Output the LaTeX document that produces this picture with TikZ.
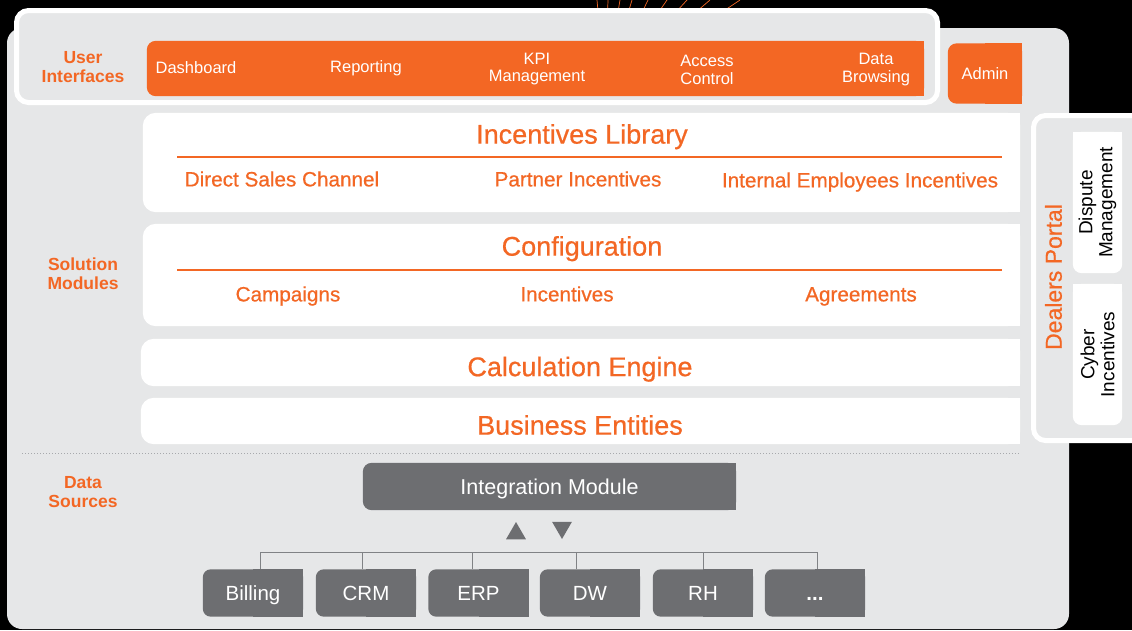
\documentclass[tikz,border=0pt]{standalone}
\usepackage{fontspec}
\setmainfont{Liberation Sans}
\newfontfamily\medfont{Liberation Sans}[FakeBold=0.6]
\usetikzlibrary{shapes.geometric}

\definecolor{ioOrange}{RGB}{243,103,36}
\definecolor{panelGrey}{RGB}{230,231,232}
\definecolor{boxGrey}{RGB}{109,110,113}
\definecolor{lineGrey}{RGB}{128,130,133}
\definecolor{dotGrey}{RGB}{167,169,172}

\newcommand\moredots{{\bfseries...}}

\pgfdeclarelayer{bg}
\pgfdeclarelayer{boxes}
\pgfsetlayers{bg,boxes,main}

\tikzset{
  leftfill/.style 2 args={append after command={\pgfextra{\begin{pgfonlayer}{boxes}
      \fill[#1, rounded corners=#2] (\tikzlastnode.south west) rectangle (\tikzlastnode.north east);
      \fill[#1] (\tikzlastnode.south) rectangle (\tikzlastnode.north east);
    \end{pgfonlayer}}}},
  capfix/.style={text height=#1, text depth=0pt},
  frame/.style={draw=white, line width=5pt, fill=panelGrey, rounded corners=12pt, inner sep=0pt},
  bartext/.style={text=white, font=\fontsize{16.5}{17.5}\selectfont, align=center},
  sidelabel/.style={text=ioOrange, font=\fontsize{17.5}{19}\selectfont\bfseries, align=center},
  modbox/.style={leftfill={white}{13pt}, minimum width=877pt, inner sep=0pt},
  headtext/.style={text=ioOrange, font=\medfont\fontsize{27}{30}\selectfont, capfix=19.3pt},
  subtext/.style={text=ioOrange, font=\medfont\fontsize{20.7}{24}\selectfont, capfix=14.8pt},
  rule/.style={ioOrange, line width=2pt},
  srcbox/.style={leftfill={boxGrey}{8pt}, minimum width=100pt, minimum height=47pt, inner sep=0pt,
    text=white, font=\fontsize{20.5}{22}\selectfont, capfix=14.7pt},
  tri/.style={regular polygon, regular polygon sides=3, fill=boxGrey, minimum size=23pt, inner sep=0pt},
  bus/.style={lineGrey, line width=1pt},
  sidetext/.style={rotate=90, align=center, text=black, font=\fontsize{19}{20}\selectfont}
}

\begin{document}
\begin{tikzpicture}[x=1pt,y=-1pt]
  \useasboundingbox (0,0) rectangle (1132,630);

  \begin{pgfonlayer}{bg}
    \fill[black] (0,0) rectangle (1132,630);
    % rays behind the top frame
    \foreach \x in {597,608,620,632,648,667,687,710,740}
      \draw[ioOrange, line width=0.7pt] (605,90) -- (\x,0);
    \fill[panelGrey, rounded corners=15pt] (7,28) rectangle (1069,629);
    \node[frame, minimum width=921pt, minimum height=92pt] (uiframe) at (477,56.5) {};
    \node[frame, minimum width=117pt, minimum height=325pt] (portal) at (1092,278) {};
  \end{pgfonlayer}

  % user interfaces
  \node[sidelabel] (uilabel) at (83,67) {User\\Interfaces};
  \node[leftfill={ioOrange}{9pt}, minimum width=777pt, minimum height=55pt] (uibar) at (535.5,68.5) {};
  \node[bartext] (dash) at (196,68) {Dashboard};
  \node[bartext] (rep) at (366,68) {Reporting};
  \node[bartext] (kpi) at (537,69) {KPI\\Management};
  \node[bartext] (acc) at (707,70) {Access\\Control};
  \node[bartext] (browse) at (876,69.5) {Data\\Browsing};
  \node[leftfill={ioOrange}{9pt}, minimum width=74pt, minimum height=60pt, bartext, capfix=11.8pt] (admin) at (985,73.5) {Admin};

  % solution modules
  \node[sidelabel] (modlabel) at (83,274) {Solution\\Modules};

  \node[modbox, minimum height=99pt] (libbox) at (581.5,162.5) {};
  \node[headtext] (lib) at (582,134) {Incentives Library};
  \draw[rule] (177,157) -- (1002,157);
  \node[subtext] (direct) at (282,179) {Direct Sales Channel};
  \node[subtext] (partner) at (578,179) {Partner Incentives};
  \node[subtext] (internal) at (860,180) {Internal Employees Incentives};

  \node[modbox, minimum height=102pt] (confbox) at (581.5,275) {};
  \node[headtext] (conf) at (582,246) {Configuration};
  \draw[rule] (177,270) -- (1002,270);
  \node[subtext] (camp) at (288,294) {Campaigns};
  \node[subtext] (incent) at (567,294) {Incentives};
  \node[subtext] (agree) at (861,294) {Agreements};

  \node[modbox, minimum width=879pt, minimum height=47pt] (calcbox) at (580.5,362.5) {};
  \node[headtext] (calc) at (580,366.5) {Calculation Engine};
  \node[modbox, minimum width=879pt, minimum height=46pt] (entbox) at (580.5,421) {};
  \node[headtext] (ent) at (580,425) {Business Entities};

  % dealers portal
  \node[rotate=90, text=ioOrange, font=\medfont\fontsize{23}{26}\selectfont] (dealers) at (1053.5,277) {Dealers Portal};
  \node[leftfill={white}{9pt}, minimum width=141pt, minimum height=49pt, inner sep=0pt, sidetext] (dispute) at (1097.5,202.5) {Dispute\\Management};
  \node[leftfill={white}{9pt}, minimum width=141pt, minimum height=49pt, inner sep=0pt, sidetext] (cyber) at (1097.5,354.5) {Cyber\\Incentives};

  % data sources
  \draw[dotGrey, line width=1pt, dash pattern=on 1pt off 2pt] (22,453) -- (1020,453);
  \node[sidelabel] (srclabel) at (83,492) {Data\\Sources};
  \node[leftfill={boxGrey}{9pt}, minimum width=373pt, minimum height=47pt, text=white,
    font=\fontsize{21.5}{22}\selectfont, capfix=15.4pt] (intmod) at (549.5,486.5) {Integration Module};
  \node[tri] (upTri) at (516,533.5) {};
  \node[tri, shape border rotate=180] (downTri) at (562,527.5) {};

  \foreach \n/\lbl/\cx/\dx in {bill/Billing/253/260, crm/CRM/366/362, erp/ERP/478.5/472,
      dw/DW/590/576, rh/RH/703/703, more/\moredots/815/817} {
    \node[srcbox] (\n) at (\cx,593) {\lbl};
    \coordinate (top-\n) at (\dx,552);
    \draw[bus] (top-\n) -- (top-\n |- \n.north);
  }
  \draw[bus] (top-bill) -- (top-more);
\end{tikzpicture}
\end{document}
